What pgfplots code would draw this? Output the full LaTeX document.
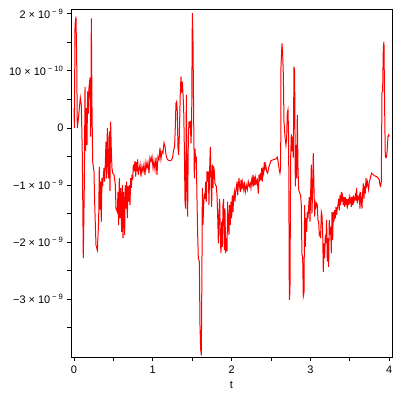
\documentclass[border=0pt]{standalone}
\usepackage{fontspec}
\setmainfont{Liberation Sans}
\usepackage{pgfplots}
\pgfplotsset{compat=1.18}
\newcommand{\ex}[1]{\,\textsuperscript{#1}}
\begin{document}
\begin{tikzpicture}[x=1bp,y=1bp]
\path[use as bounding box] (-71bp,-43bp) rectangle (329bp,357bp);
\begin{axis}[
  at={(0,0)}, anchor=south west,
  width=321bp, height=348bp, scale only axis,
  xmin=-0.038, xmax=4.036, ymin=-4.01, ymax=2.084,
  axis line style={black, line width=0.8pt},
  tick pos=left, tick align=outside,
  major tick length=4bp, minor tick length=4bp,
  tick style={black, line width=0.8pt},
  xtick={0,1,2,3,4}, minor xtick={0.5,1.5,2.5,3.5},
  ytick={-3,-2,-1,0,1,2}, minor ytick={-3.5,-2.5,-1.5,-0.5,0.5,1.5},
  yticklabels={{−3 × 10\ex{− 9}},{−2 × 10\ex{− 9}},{−1 × 10\ex{− 9}},{0},{10 × 10\ex{− 10}},{2 × 10\ex{− 9}}},
  xticklabels={0,1,2,3,4},
  ticklabel style={font=\fontsize{11}{13}\selectfont},
  xticklabel style={yshift=-1bp},
  xlabel={t}, xlabel style={font=\fontsize{11}{13}\selectfont, yshift=-1bp},
  /pgf/number format/assume math mode=true,
]
\addplot[red, line width=1bp] coordinates {
(0.000,0.35)(0.005,0.0)(0.013,1.8)(0.025,1.95)(0.034,1.25)(0.042,0.0)(0.055,0.15)(0.068,0.35)(0.080,0.53)(0.093,0.4)
(0.106,-0.5)(0.118,-2.28)(0.131,-1.0)(0.140,0.72)(0.148,-0.4)(0.157,0.35)(0.165,-0.3)(0.173,0.64)(0.182,0.25)(0.190,0.7)
(0.203,0.88)(0.212,-0.15)(0.220,1.92)(0.228,0.42)(0.237,-0.59)(0.254,-0.77)(0.262,-1.29)(0.279,-2.05)(0.296,-2.14)(0.313,-1.64)
(0.321,-0.68)(0.330,-1.43)(0.338,-0.94)(0.347,-1.64)(0.355,-0.88)(0.364,-1.02)(0.372,-0.85)(0.381,-0.7)(0.389,-0.94)(0.398,-0.6)
(0.406,-0.24)(0.415,-0.88)(0.423,0.0)(0.431,-0.54)(0.440,-0.88)(0.448,-0.06)(0.457,-1.1)(0.465,0.11)(0.474,-0.41)(0.482,-0.7)
(0.491,-0.79)(0.508,-0.82)(0.525,-1.0)(0.533,-1.41)(0.550,-1.47)(0.558,-1.12)(0.567,-1.7)(0.575,-0.88)(0.584,-1.58)(0.592,-1.05)
(0.605,-1.82)(0.613,-1.0)(0.622,-1.93)(0.630,-1.12)(0.643,-1.87)(0.651,-1.0)(0.660,-1.41)(0.668,-0.94)(0.677,-1.58)(0.685,-1.02)
(0.694,-1.29)(0.702,-1.0)(0.711,-1.35)(0.719,-0.88)(0.728,-1.05)(0.736,-0.82)(0.745,-0.91)(0.753,-0.64)(0.761,-0.76)(0.774,-0.58)
(0.783,-0.85)(0.791,-0.6)(0.799,-0.76)(0.808,-0.55)(0.816,-0.82)(0.829,-0.7)(0.838,-0.64)(0.850,-0.85)(0.863,-0.67)(0.876,-0.76)
(0.888,-0.64)(0.901,-0.82)(0.914,-0.6)(0.926,-0.7)(0.939,-0.6)(0.952,-0.79)(0.964,-0.52)(0.977,-0.58)(0.990,-0.5)(1.003,-0.7)
(1.015,-0.58)(1.028,-0.73)(1.041,-0.52)(1.053,-0.82)(1.066,-0.5)(1.079,-0.55)(1.091,-0.35)(1.104,-0.55)(1.117,-0.41)(1.129,-0.44)
(1.142,-0.26)(1.155,-0.32)(1.168,-0.47)(1.184,-0.55)(1.206,-0.57)(1.231,-0.57)(1.252,-0.52)(1.261,-0.41)(1.277,-0.32)(1.286,0.02)
(1.294,0.43)(1.303,0.46)(1.311,0.29)(1.320,-0.36)(1.328,-0.47)(1.337,-0.12)(1.349,0.61)(1.358,0.9)(1.366,0.62)(1.375,0.81)
(1.383,0.61)(1.392,0.34)(1.400,-0.3)(1.409,-1.29)(1.417,-1.41)(1.426,0.58)(1.434,-1.06)(1.442,-1.55)(1.451,-0.2)(1.459,0.11)
(1.468,0.0)(1.476,0.13)(1.485,-0.27)(1.493,0.04)(1.502,2.01)(1.510,1.57)(1.519,0.16)(1.527,-0.88)(1.536,-0.36)(1.544,-0.6)
(1.552,-0.5)(1.561,-1.24)(1.569,-1.84)(1.578,-2.28)(1.591,-2.34)(1.599,-3.45)(1.607,-3.86)(1.616,-3.98)(1.624,-2.4)(1.629,-1.05)
(1.637,-1.7)(1.646,-1.35)(1.654,-1.15)(1.662,-1.24)(1.671,-0.94)(1.679,-1.29)(1.688,-0.76)(1.696,-0.94)(1.705,-0.76)(1.713,-1.35)
(1.722,-0.7)(1.730,-0.33)(1.739,-0.88)(1.747,-1.38)(1.756,-0.64)(1.764,-1.05)(1.772,-0.67)(1.781,-0.76)(1.789,-0.97)(1.798,-1.0)
(1.806,-1.02)(1.815,-1.18)(1.823,-1.5)(1.832,-2.02)(1.840,-1.52)(1.849,-1.24)(1.857,-1.93)(1.865,-2.19)(1.874,-1.64)(1.882,-2.08)
(1.891,-1.35)(1.899,-1.24)(1.908,-2.14)(1.916,-1.41)(1.925,-2.19)(1.933,-1.93)(1.942,-2.16)(1.950,-1.29)(1.959,-1.7)(1.967,-1.87)
(1.975,-1.35)(1.984,-1.7)(1.992,-1.29)(2.001,-1.58)(2.009,-1.18)(2.018,-1.47)(2.026,-1.21)(2.035,-1.12)(2.043,-1.29)(2.052,-1.12)
(2.060,-1.05)(2.069,-0.94)(2.077,-1.18)(2.085,-1.02)(2.094,-0.88)(2.102,-1.02)(2.111,-1.12)(2.119,-0.91)(2.128,-1.08)(2.136,-0.94)
(2.145,-1.02)(2.153,-1.08)(2.162,-0.94)(2.174,-1.12)(2.187,-1.0)(2.200,-1.08)(2.212,-0.94)(2.225,-1.02)(2.238,-0.97)(2.246,-1.05)
(2.255,-0.91)(2.263,-0.97)(2.272,-0.82)(2.280,-1.02)(2.288,-0.85)(2.297,-1.0)(2.305,-0.88)(2.314,-0.97)(2.327,-0.91)(2.339,-1.15)
(2.348,-0.82)(2.356,-0.94)(2.365,-0.79)(2.373,-0.91)(2.382,-0.7)(2.390,-0.94)(2.398,-0.73)(2.407,-0.79)(2.415,-0.6)(2.424,-0.7)
(2.432,-0.64)(2.445,-0.76)(2.458,-0.79)(2.470,-0.7)(2.483,-0.64)(2.500,-0.57)(2.521,-0.56)(2.542,-0.55)(2.563,-0.54)(2.580,-0.51)
(2.589,-0.58)(2.602,-0.7)(2.614,-0.79)(2.623,-0.7)(2.627,1.07)(2.640,1.48)(2.648,1.31)(2.657,0.93)(2.665,0.11)(2.678,-0.15)
(2.690,-0.3)(2.699,-0.18)(2.707,0.26)(2.716,0.32)(2.724,-0.18)(2.733,-3.01)(2.741,-2.87)(2.750,-0.52)(2.758,-0.11)(2.766,-0.41)
(2.775,-0.15)(2.783,-0.52)(2.792,1.07)(2.800,1.01)(2.809,-1.02)(2.817,-0.3)(2.826,-0.88)(2.834,0.23)(2.843,-0.7)(2.851,-1.08)
(2.860,-1.12)(2.868,-1.15)(2.876,-1.18)(2.885,-1.35)(2.893,-2.22)(2.902,-2.25)(2.910,-2.95)(2.919,-2.89)(2.927,-1.35)(2.936,-2.08)
(2.944,-1.58)(2.953,-1.82)(2.961,-1.47)(2.970,-1.58)(2.978,-1.38)(2.986,-1.21)(2.995,-1.64)(3.003,-1.18)(3.012,-0.64)(3.020,-1.5)
(3.029,-1.05)(3.037,-0.44)(3.046,-1.05)(3.054,-1.55)(3.063,-1.32)(3.071,-1.38)(3.080,-1.32)(3.088,-1.35)(3.096,-1.61)(3.105,-1.64)
(3.113,-1.87)(3.122,-1.84)(3.130,-1.93)(3.139,-1.47)(3.147,-1.52)(3.156,-1.82)(3.164,-2.52)(3.173,-2.02)(3.181,-2.28)(3.190,-1.87)
(3.198,-2.02)(3.206,-1.61)(3.215,-2.34)(3.223,-1.93)(3.232,-2.43)(3.240,-1.61)(3.249,-1.87)(3.257,-1.73)(3.266,-2.19)(3.274,-1.47)
(3.283,-1.96)(3.291,-1.47)(3.299,-1.64)(3.308,-1.44)(3.316,-1.58)(3.325,-1.38)(3.333,-1.52)(3.342,-1.41)(3.350,-1.35)(3.359,-1.24)
(3.367,-1.44)(3.376,-1.18)(3.384,-1.35)(3.393,-1.12)(3.401,-1.29)(3.409,-1.2)(3.418,-1.35)(3.426,-1.21)(3.435,-1.38)(3.443,-1.21)
(3.452,-1.35)(3.460,-1.24)(3.469,-1.41)(3.477,-1.24)(3.486,-1.35)(3.494,-1.21)(3.503,-1.29)(3.511,-1.24)(3.519,-1.38)(3.528,-1.21)
(3.536,-1.35)(3.545,-1.18)(3.553,-1.29)(3.562,-1.24)(3.570,-1.18)(3.579,-1.27)(3.587,-1.05)(3.596,-1.32)(3.604,-1.21)(3.613,-1.24)
(3.621,-1.18)(3.629,-1.41)(3.638,-1.12)(3.646,-1.27)(3.655,-1.41)(3.663,-1.15)(3.672,-0.97)(3.680,-1.24)(3.689,-1.02)(3.697,-1.15)
(3.706,-0.88)(3.714,-1.0)(3.723,-0.94)(3.731,-1.02)(3.739,-1.08)(3.748,-0.94)(3.756,-0.91)(3.765,-0.85)(3.777,-0.79)(3.799,-0.82)
(3.820,-0.84)(3.841,-0.85)(3.862,-0.88)(3.875,-0.91)(3.883,-1.0)(3.892,-1.02)(3.900,-0.94)(3.909,0.62)(3.917,0.65)(3.926,1.42)
(3.934,1.51)(3.942,0.41)(3.951,-0.5)(3.959,-0.52)(3.968,-0.5)(3.976,-0.36)(3.985,-0.15)(3.993,-0.12)(4.002,-0.15)
};
\end{axis}
\end{tikzpicture}
\end{document}
